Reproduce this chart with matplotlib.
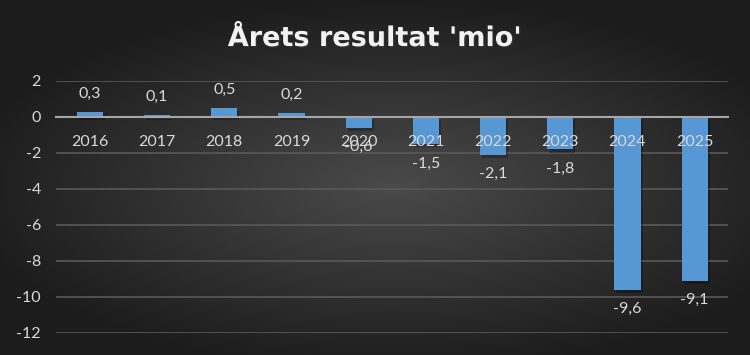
import numpy as np
import matplotlib
matplotlib.use("Agg")
import matplotlib.pyplot as plt
import matplotlib.patheffects as pe

years = ['2016', '2017', '2018', '2019', '2020', '2021', '2022', '2023', '2024', '2025']
resultat = [0.3, 0.1, 0.5, 0.2, -0.6, -1.5, -2.1, -1.8, -9.6, -9.1]
yticks = [2, 0, -2, -4, -6, -8, -10, -12]

plt.rcParams['font.family'] = ['Lato', 'DejaVu Sans']

fig = plt.figure(figsize=(7.5, 3.55), dpi=100)

# mørk radial baggrund
bg = fig.add_axes([0, 0, 1, 1], zorder=-1)
xx, yy = np.meshgrid(np.linspace(-1, 1, 750), np.linspace(-1, 1, 355))
r = np.sqrt(((xx - 0.05) / 1.1) ** 2 + ((yy - 0.05) / 1.0) ** 2)
shade = np.clip(0.29 - 0.17 * r, 0.11, 0.3)
bg.imshow(np.dstack([shade] * 3), aspect='auto', extent=[0, 1, 0, 1])
bg.axis('off')

ax = fig.add_axes([0.075, 0.062, 0.896, 0.71])
ax.patch.set_alpha(0)

x = np.arange(len(years))
# gitterlinjer bag søjlerne, akse-tekst over søjlerne
for t in yticks:
    if t != 0:
        ax.axhline(t, color='#595959', linewidth=1.2, zorder=1)

bars = ax.bar(x, resultat, width=0.39, color='#5797d3', zorder=2)
for b in bars:
    b.set_path_effects([pe.SimplePatchShadow(offset=(1.5, -2.5), shadow_rgbFace='black', alpha=0.25), pe.Normal()])

for xi, v in zip(x, resultat):
    txt = f'{v:.1f}'.replace('.', ',')
    if v >= 0:
        ax.annotate(txt, (xi, v), xytext=(0, 8), textcoords='offset points',
                    ha='center', va='bottom', color='#d9d9d9', fontsize=11.5)
    else:
        ax.annotate(txt, (xi, v), xytext=(0, -9), textcoords='offset points',
                    ha='center', va='top', color='#d9d9d9', fontsize=11.5)

ax.set_xlim(-0.5, len(years) - 0.5)
ax.set_ylim(-12, 2)
ax.set_yticks(yticks)
ax.set_yticklabels([str(t) for t in yticks])
ax.set_xticks(x)
ax.set_xticklabels(years)
ax.set_axisbelow(False)

for s in ['top', 'right', 'left']:
    ax.spines[s].set_visible(False)
ax.spines['bottom'].set_position(('data', 0))
ax.spines['bottom'].set_color('#a6a6a6')
ax.spines['bottom'].set_linewidth(1.5)
ax.tick_params(axis='both', length=0, colors='#d9d9d9', labelsize=11.5)
ax.tick_params(axis='x', pad=13)
ax.tick_params(axis='y', pad=11)

fig.text(0.5, 0.89, "Årets resultat 'mio'", ha='center', va='center',
         color='#f2f2f2', fontsize=19.5, fontweight='bold', family='DejaVu Sans',
         path_effects=[pe.withSimplePatchShadow(offset=(1, -1), alpha=0.3)])

fig.savefig('out.png', dpi=100)
